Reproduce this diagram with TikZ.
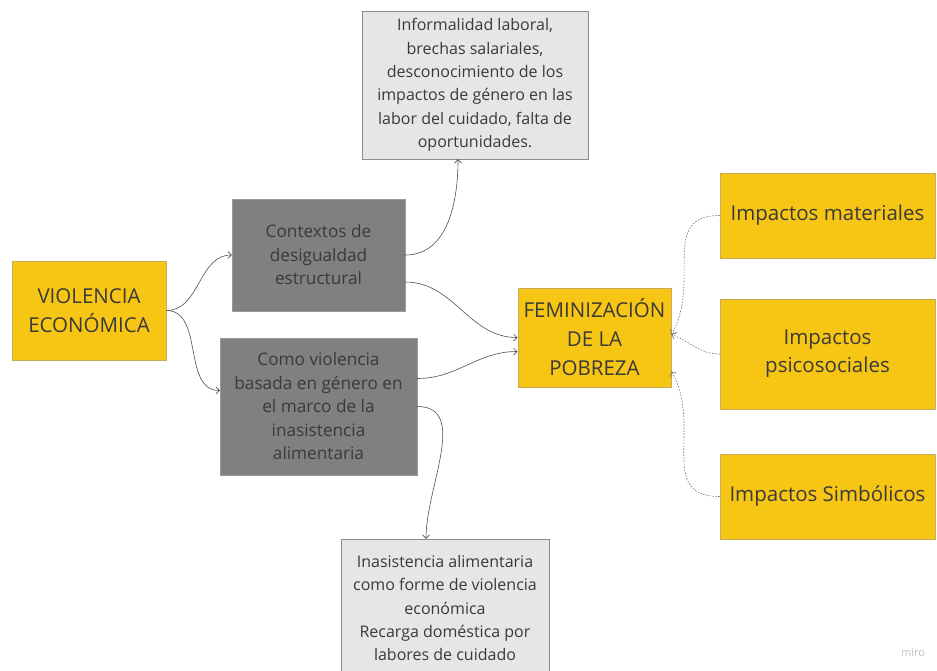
\documentclass[tikz,border=0pt]{standalone}
\usepackage{fontspec}
\setmainfont{Open Sans}
\usetikzlibrary{arrows.meta,positioning}
\definecolor{mirogold}{HTML}{F7C514}
\definecolor{goldedge}{HTML}{C8AA5A}
\definecolor{midgrey}{HTML}{808080}
\definecolor{midedge}{HTML}{9A9A9A}
\definecolor{palegrey}{HTML}{E6E6E6}
\definecolor{paleedge}{HTML}{8C8C8C}
\definecolor{inkgrey}{HTML}{3A3A3A}
\definecolor{wiregrey}{HTML}{505050}
\tikzstyle{goldbox} = [rectangle, draw=goldedge, line width=1pt, fill=mirogold,
    text=inkgrey, align=center, inner sep=0pt, font=\fontsize{20.5}{29}\selectfont]
\tikzstyle{impbox} = [goldbox, minimum width=215pt, font=\fontsize{20.5}{28}\selectfont]
\tikzstyle{darkbox} = [rectangle, draw=midedge, fill=midgrey, text=inkgrey,
    align=center, inner sep=0pt, font=\fontsize{17.2}{23.5}\selectfont]
\tikzstyle{notebox} = [rectangle, draw=paleedge, fill=palegrey, text=inkgrey,
    align=center, inner sep=0pt, font=\fontsize{16}{23.4}\selectfont]
\tikzstyle{wire} = [->, draw=wiregrey, line width=0.6pt]
\tikzstyle{dotwire} = [->, draw=wiregrey!85, line width=0.6pt, dash pattern=on 1.5pt off 1.5pt]

\begin{document}
\begin{tikzpicture}[x=1pt,y=-1pt,>={Straight Barb[length=3.5pt,width=7pt]},
                    node distance=40pt]
  \useasboundingbox (0,0) rectangle (937,670);

  \node[goldbox, minimum width=154pt, minimum height=99pt]  (viol) at (89,310.5)
       {VIOLENCIA\\ECONÓMICA};
  \node[darkbox, minimum width=173pt, minimum height=112pt] (ctx)  at (318.5,255)
       {Contextos de\\desigualdad\\estructural};
  \node[darkbox, minimum width=197pt, minimum height=137pt] (como) at (318.5,406.5)
       {Como violencia\\basada en género en\\el marco de la\\inasistencia\\alimentaria};
  \node[notebox, minimum width=226pt, minimum height=148pt] (info) at (475,85)
       {Informalidad laboral,\\brechas salariales,\\desconocimiento de los\\impactos de género en las\\labor del cuidado, falta de\\oportunidades.};
  \node[notebox, minimum width=208pt, minimum height=138pt] (inas) at (445,608)
       {Inasistencia alimentaria\\como forme de violencia\\económica\\Recarga doméstica por\\labores de cuidado};
  \node[goldbox, minimum width=153pt, minimum height=99pt]  (fem)  at (594.5,337.5)
       {FEMINIZACIÓN\\DE LA\\POBREZA};
  \node[impbox, minimum height=85pt]  (mat) at (827.5,215.5)  {Impactos materiales};
  \node[impbox, minimum height=110pt] (psi) [below=40pt of mat] {Impactos\\psicosociales};
  \node[impbox, minimum height=85pt]  (sim) [below=44pt of psi] {Impactos Simbólicos};

  \node[text=black!25, font=\fontsize{11}{11}\selectfont] (wm) at (913,653) {miro};

  \path (viol.east) edge[wire,out=0,in=180] (ctx.west)
                    edge[wire,out=0,in=180] ([yshift=16pt]como.west)
        (ctx.east)  edge[wire,out=0,in=-90] ([xshift=-17pt]info.south)
        ([yshift=-27pt]ctx.east) edge[wire,out=0,in=180] (fem.west)
        ([yshift=28pt]como.east) edge[wire,out=0,in=180] ([yshift=-14pt]fem.west)
        (como.east) edge[wire,out=0,in=90]  ([xshift=-19pt]inas.north);

  \path (mat.west) edge[dotwire,out=180,in=60,looseness=1.2] ([yshift=3pt]fem.east)
        (psi.west) edge[dotwire,out=180,in=-20] ([yshift=3pt]fem.east)
        (sim.west) edge[dotwire,out=180,in=-60,looseness=1.2] ([yshift=-34pt]fem.east);
\end{tikzpicture}
\end{document}
